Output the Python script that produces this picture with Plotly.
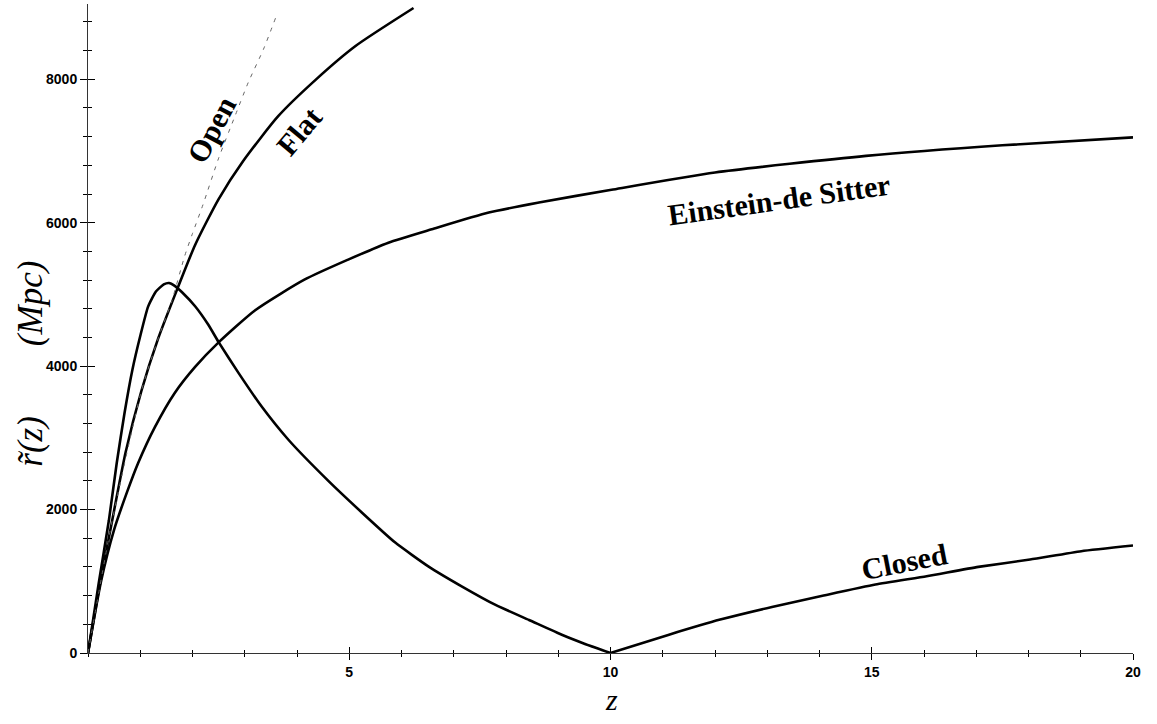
import plotly.graph_objects as go

# ---- data (z, r~ in Mpc) ----
z_flat = [0, 0.2, 0.45, 0.72, 1.02, 1.34, 1.7, 2.05, 2.5, 2.97, 3.64, 4.35, 5.12, 6.23]
r_flat = [0, 850, 1800, 2800, 3650, 4380, 5060, 5690, 6330, 6860, 7486, 7989, 8464, 8994]

z_open = [0, 0.45, 1.02, 1.34, 1.6, 1.85, 2.0, 2.2, 2.5, 2.82, 3.07, 3.36, 3.59]
r_open = [0, 1800, 3650, 4380, 4900, 5535, 5850, 6250, 6900, 7500, 7961, 8422, 8855]

z_eds = [0, 0.25, 0.5, 0.75, 0.96, 1.28, 1.66, 2.05, 2.49, 3.2, 4.15, 4.99, 5.75,
         6.58, 7.67, 8.63, 10.02, 12.0, 14.89, 17.5, 20.0]
r_eds = [0, 1000, 1720, 2250, 2650, 3150, 3627, 3990, 4325, 4780, 5209, 5489, 5722,
         5908, 6141, 6281, 6460, 6700, 6932, 7080, 7190]

z_closed = [0, 0.2, 0.4, 0.55, 0.7, 0.85, 1.0, 1.15, 1.3, 1.45, 1.55, 1.66, 1.8, 2.05,
            2.3, 2.5, 2.88, 3.32, 3.84, 4.6, 5.24, 5.88, 6.52, 7.16, 7.8, 8.44, 9.08,
            9.5, 10.0, 11.12, 12.1, 13.09, 14.08, 15.07, 16.05, 17.04, 18.03, 19.01, 20.0]
r_closed = [0, 950, 1850, 2650, 3350, 3950, 4420, 4830, 5040, 5140, 5160, 5120, 5030, 4835,
            4580, 4335, 3906, 3440, 2970, 2400, 1960, 1540, 1205, 926, 670, 461, 251,
            130, 0, 256, 466, 642, 801, 954, 1071, 1201, 1303, 1420, 1499]

# label positions (z, r) and angles
labels = ["Open", "Flat", "Einstein-de Sitter", "Closed"]
label_z = [2.36, 4.03, 13.23, 15.63]
label_r = [7305, 7277, 6327, 1271]
label_angle = [-62, -50, -8, -11]

x_major = [5, 10, 15, 20]
y_major = [0, 2000, 4000, 6000, 8000]
X_RANGE = [0, 20]
Y_RANGE = [0, 9050]

fig = go.Figure()
line_black = dict(color="black", width=2.6)
fig.add_trace(go.Scatter(x=z_eds, y=r_eds, mode="lines", line=dict(line_black, shape="spline", smoothing=0.6)))
fig.add_trace(go.Scatter(x=z_flat, y=r_flat, mode="lines", line=dict(line_black, shape="spline", smoothing=0.6)))
# closed: two smooth branches meeting in a sharp V at r = 0
i0 = r_closed.index(0, 1)
fig.add_trace(go.Scatter(x=z_closed[:i0 + 1], y=r_closed[:i0 + 1], mode="lines",
                         line=dict(line_black, shape="spline", smoothing=0.5)))
fig.add_trace(go.Scatter(x=z_closed[i0:], y=r_closed[i0:], mode="lines",
                         line=dict(line_black, shape="spline", smoothing=0.5)))
fig.add_trace(go.Scatter(x=z_open, y=r_open, mode="lines",
                         line=dict(color="#666666", width=1, dash="4px,6px", shape="spline", smoothing=0.6)))
# invisible trace on overlay axes so they are drawn
fig.add_trace(go.Scatter(x=[None], y=[None], xaxis="x2", yaxis="y2", mode="lines", hoverinfo="skip"))

for t, zx, ry, ang in zip(labels, label_z, label_r, label_angle):
    fig.add_annotation(x=zx, y=ry, text="<b>" + t + "</b>", textangle=ang, showarrow=False,
                       font=dict(family="Liberation Serif", size=30, color="black"),
                       xanchor="center", yanchor="middle")

tickfont = dict(family="Liberation Sans", size=14, color="black", weight="bold")
common_x = dict(range=X_RANGE, showgrid=False, zeroline=False, showline=True,
                linecolor="#333333", linewidth=1, tickcolor="black", tickwidth=1)
common_y = dict(range=Y_RANGE, showgrid=False, zeroline=False, showline=True,
                linecolor="#333333", linewidth=1, tickcolor="black", tickwidth=1)

fig.update_layout(
    width=1157, height=724,
    margin=dict(l=88, r=24, t=4, b=71),
    paper_bgcolor="white", plot_bgcolor="white",
    showlegend=False,
    xaxis=dict(common_x, tickmode="array", tickvals=x_major, ticks="outside", ticklen=6,
               tickfont=tickfont,
               minor=dict(dtick=1, ticks="outside", ticklen=3, tickcolor="black", showgrid=False)),
    yaxis=dict(common_y, tickmode="array", tickvals=y_major, ticks="outside", ticklen=7,
               tickfont=tickfont,
               minor=dict(tick0=0, dtick=400, ticks="outside", ticklen=4, tickcolor="black", showgrid=False)),
    xaxis2=dict(common_x, overlaying="x", anchor="y", side="bottom", tickmode="array",
                tickvals=x_major, ticks="inside", ticklen=6, showticklabels=False,
                minor=dict(dtick=1, ticks="inside", ticklen=3, tickcolor="black", showgrid=False)),
    yaxis2=dict(common_y, overlaying="y", anchor="x", side="left", tickmode="array",
                tickvals=y_major, ticks="inside", ticklen=7, showticklabels=False,
                minor=dict(tick0=0, dtick=400, ticks="inside", ticklen=4, tickcolor="black", showgrid=False)),
)

# axis titles as annotations in paper coordinates
fig.add_annotation(xref="paper", yref="paper", x=-0.055, y=0.445,
                   text="<i>r\u0303(z)\u00a0\u00a0\u00a0\u00a0\u00a0\u00a0\u00a0\u00a0(Mpc)</i>", textangle=-90,
                   showarrow=False, xanchor="center", yanchor="middle",
                   font=dict(family="Liberation Serif", size=35, color="black"))
fig.add_annotation(xref="paper", yref="paper", x=0.5007, y=-0.072, text="<i>z</i>",
                   showarrow=False, xanchor="center", yanchor="middle",
                   font=dict(family="Liberation Serif", size=30, color="black"))

fig.write_html("out.html")
